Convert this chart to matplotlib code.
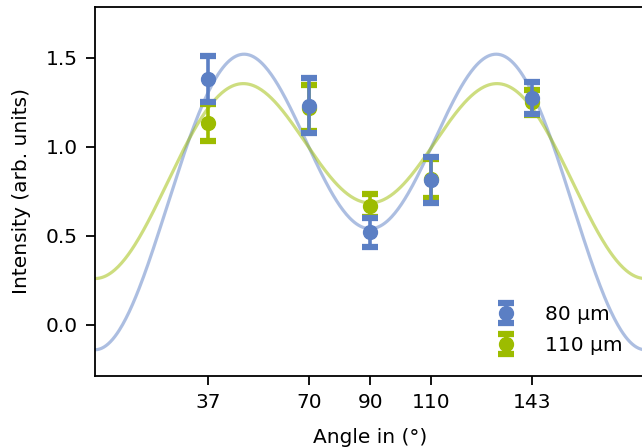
import numpy as np
import matplotlib
matplotlib.use("Agg")
import matplotlib.pyplot as plt

# measured points
angles = [37, 70, 90, 110, 143]
i_80 = [1.38, 1.23, 0.52, 0.815, 1.275]
e_80 = [0.13, 0.155, 0.08, 0.13, 0.09]
i_110 = [1.135, 1.22, 0.67, 0.82, 1.25]
e_110 = [0.105, 0.13, 0.065, 0.11, 0.07]

# fit parameters: I = a + b*cos(2t) + d*cos(2t)^2
fit_80 = [1.498, -0.34, -1.298]
fit_110 = [1.342, -0.2125, -0.8695]

BLUE = "#5b7fc4"
GREEN = "#9dbc00"
FS = 14.5


def model(t, p):
    c = np.cos(np.radians(2 * t))
    return p[0] + p[1] * c + p[2] * c ** 2


fig = plt.figure(figsize=(6.42, 4.47), dpi=100)
ax = fig.add_axes([0.148, 0.159, 0.857, 0.826])

t = np.linspace(0, 180, 500)
ax.plot(t, model(t, fit_80), color=BLUE, alpha=0.5, lw=2.3, zorder=1)
ax.plot(t, model(t, fit_110), color=GREEN, alpha=0.5, lw=2.3, zorder=1)

kw = dict(fmt="o", ms=10, elinewidth=2.6, capsize=5.8, capthick=4.5)
ax.errorbar(angles, i_80, yerr=e_80, color=BLUE, label="80 µm", zorder=4, **kw)
ax.errorbar(angles, i_110, yerr=e_110, color=GREEN, label="110 µm", zorder=3, **kw)

ax.set_xlim(0, 180)
ax.set_ylim(-0.287, 1.787)
ax.set_xticks(angles)
ax.set_yticks([0.0, 0.5, 1.0, 1.5])
ax.tick_params(labelsize=FS, length=6.5, width=1.3, pad=6)
ax.set_xlabel("Angle in (°)", fontsize=FS, labelpad=11)
ax.set_ylabel("Intensity (arb. units)", fontsize=FS, labelpad=10.5)
ax.spines["right"].set_visible(False)
for s in ["left", "top", "bottom"]:
    ax.spines[s].set_linewidth(1.3)

ax.legend(loc="lower right", frameon=False, fontsize=FS,
          bbox_to_anchor=(0.9925, 0.008), handletextpad=0.95, labelspacing=0.6)

fig.savefig("out.png", dpi=100)
